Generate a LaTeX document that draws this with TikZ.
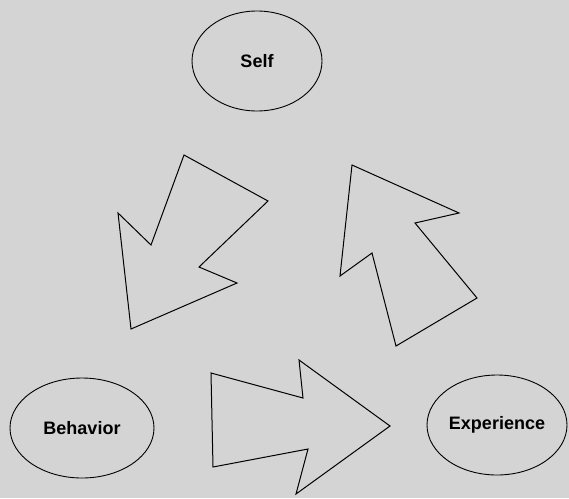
\documentclass[tikz,border=0pt]{standalone}
\usepackage{fontspec}
\setmainfont{Liberation Sans}
\usetikzlibrary{shapes.geometric}
\definecolor{paper}{RGB}{212,212,212}
\tikzset{concept/.style={
  ellipse,
  draw,line width=0.9pt,
  inner sep=0pt,minimum height=100pt,
  font=\fontsize{18}{20}\selectfont\bfseries}}
\tikzset{blockarrow/.style={draw,line width=1pt,line join=miter}}

\begin{document}
\begin{tikzpicture}[x=1pt,y=-1pt]
  \fill[paper] (0,0) rectangle (569,498);
  \useasboundingbox (0,0) rectangle (569,498);
  \foreach \n/\p/\w/\l in {
      self/{(257,61)}/130/Self,
      behavior/{(82,428)}/144/Behavior,
      experience/{(497,425)}/140/Experience}
    \node[concept,minimum width=\w] (\n) at \p {\l};
  % self -> behavior
  \draw[blockarrow] (184,155) -- (268,201) -- (199,267) -- (237,283)
    -- (131,329) -- (118,213) -- (151,245) -- cycle;
  % experience -> self
  \draw[blockarrow] (352,165) -- (459,213) -- (415,223) -- (477,298)
    -- (396,346) -- (372,253) -- (340,276) -- cycle;
  % behavior -> experience
  \draw[blockarrow] (211,373) -- (303,398) -- (299,360) -- (390,426)
    -- (296,494) -- (308,449) -- (213,467) -- cycle;
\end{tikzpicture}
\end{document}
